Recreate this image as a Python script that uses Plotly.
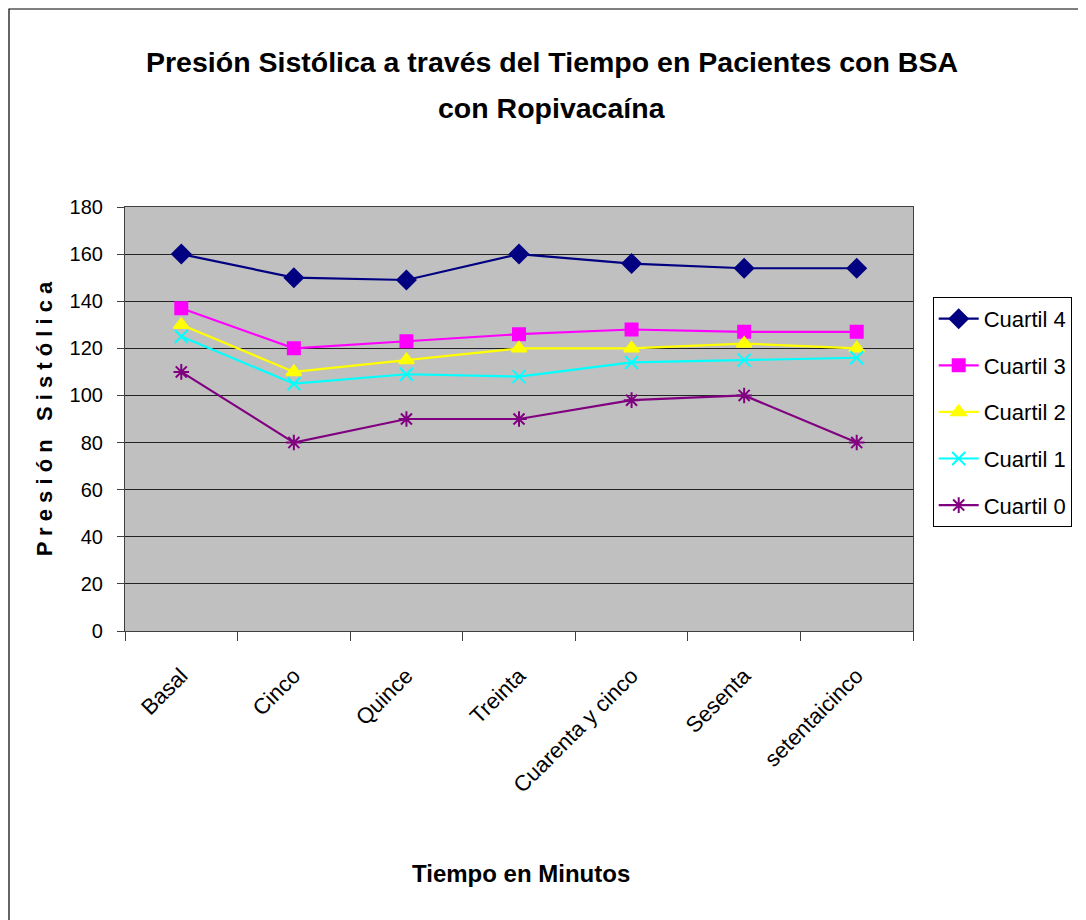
import plotly.graph_objects as go

categorias = ["Basal", "Cinco", "Quince", "Treinta", "Cuarenta y cinco", "Sesenta", "setentaicinco"]
cuartil_4 = [160, 150, 149, 160, 156, 154, 154]
cuartil_3 = [137, 120, 123, 126, 128, 127, 127]
cuartil_2 = [130, 110, 115, 120, 120, 122, 120]
cuartil_1 = [125, 105, 109, 108, 114, 115, 116]
cuartil_0 = [110, 80, 90, 90, 98, 100, 80]
y_ticks = [0, 20, 40, 60, 80, 100, 120, 140, 160, 180]

FONT = "Liberation Sans Narrow, Arial Narrow, Liberation Sans, Arial, sans-serif"

series = [
    ("Cuartil 4", cuartil_4, "#000080", "diamond", 14),
    ("Cuartil 3", cuartil_3, "#FF00FF", "square", 12),
    ("Cuartil 2", cuartil_2, "#FFFF00", "triangle-up", 13),
    ("Cuartil 1", cuartil_1, "#00FFFF", "x-thin", 13),
    ("Cuartil 0", cuartil_0, "#800080", "asterisk", 13),
]

fig = go.Figure()
for name, vals, color, sym, size in series:
    fig.add_trace(go.Scatter(
        x=categorias, y=vals, name=name, mode="lines+markers",
        legendgroup=name,
        line=dict(color=color, width=2.2),
        marker=dict(symbol=sym, size=size, color=color,
                    line=dict(color=color, width=2)),
    ))

fig.update_layout(
    width=1086, height=920,
    margin=dict(l=117, r=181, t=199, b=297),
    paper_bgcolor="white",
    plot_bgcolor="#C0C0C0",
    font=dict(family=FONT, size=20, color="black"),
    showlegend=True,
    legend=dict(
        x=1.025, y=0.788, xanchor="left", yanchor="top",
        bgcolor="white", bordercolor="black", borderwidth=1,
        font=dict(family=FONT, size=22, color="black"),
        tracegroupgap=15, traceorder="grouped",
        itemwidth=40,
    ),
    xaxis=dict(
        type="category", tickangle=-45, tickson="boundaries",
        ticks="outside", ticklen=9, tickcolor="#404040",
        showline=True, linecolor="#404040", linewidth=1.2, mirror=True,
        showgrid=False, tickfont=dict(family=FONT, size=22),
        ticklabelstandoff=22,
        range=[-0.5, 6.5],
    ),
    yaxis=dict(
        range=[0, 180], tickvals=y_ticks, ticks="outside", ticklen=7, tickcolor="#404040",
        showline=True, linecolor="#404040", linewidth=1.2, mirror=True,
        showgrid=True, gridcolor="#222222", gridwidth=1,
        tickfont=dict(family=FONT, size=20),
        ticklabelstandoff=10,
        zeroline=False,
        title=dict(text="<b>P r e s i ó n   S i s t ó l i c a</b>", font=dict(family=FONT, size=22), standoff=10),
    ),
)

# title (two lines, set apart as in the original)
fig.add_annotation(
    text="<b>Presión Sistólica a través del Tiempo en Pacientes con BSA</b>",
    xref="paper", yref="paper", x=0.542, y=1.342, xanchor="center", yanchor="middle",
    showarrow=False, font=dict(family=FONT, size=28.5, color="black"),
)
fig.add_annotation(
    text="<b>con Ropivacaína</b>",
    xref="paper", yref="paper", x=0.542, y=1.2335, xanchor="center", yanchor="middle",
    showarrow=False, font=dict(family=FONT, size=28.5, color="black"),
)
# x-axis title
fig.add_annotation(
    text="<b>Tiempo en Minutos</b>",
    xref="paper", yref="paper", x=0.5025, y=-0.571, xanchor="center", yanchor="middle",
    showarrow=False, font=dict(family=FONT, size=24, color="black"),
)

# outer chart frame
fig.add_shape(type="rect", xref="paper", yref="paper",
              x0=-116 / 788, x1=1.3, y0=-0.8, y1=1 + 198 / 424,
              line=dict(color="black", width=1.2), fillcolor="rgba(0,0,0,0)", layer="below")

fig.write_html("out.html")
